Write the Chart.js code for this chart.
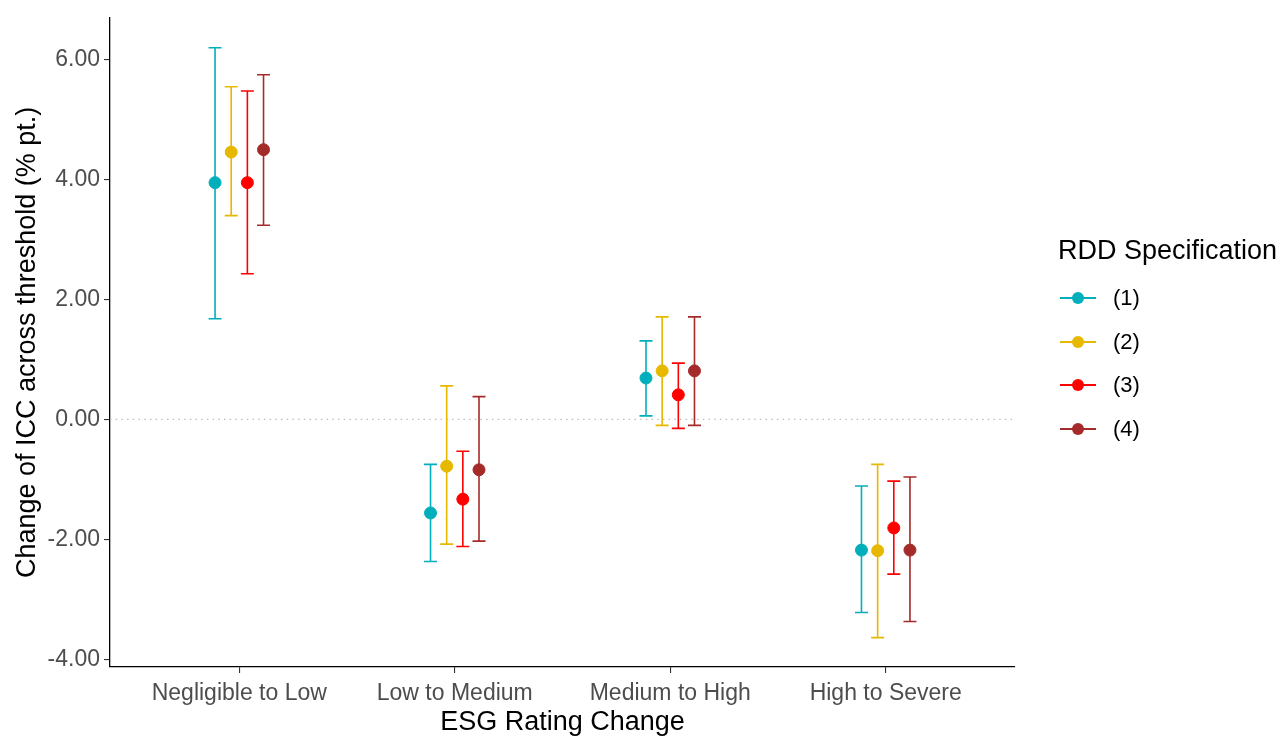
<!DOCTYPE html>
<html>
<head>
<meta charset="utf-8">
<script src="https://cdn.jsdelivr.net/npm/chart.js@4.4.1/dist/chart.umd.min.js"></script>
<style>
  html, body { margin: 0; padding: 0; background: #fff; }
  #wrap { position: relative; width: 1286px; height: 736px; }
  #legend { position: absolute; left: 1058px; top: 230px; font-family: "Liberation Sans", Arial, sans-serif; color: #000; }
  #legend .title { font-size: 27px; line-height: 40px; white-space: nowrap; }
  #legend .item { position: absolute; left: 2px; height: 30px; width: 120px; }
  #legend .key { position: absolute; left: 0; top: 14px; width: 36px; height: 2px; }
  #legend .dot { position: absolute; left: 12px; top: 9px; width: 12px; height: 12px; border-radius: 50%; }
  #legend .lab { position: absolute; left: 53px; top: 0; font-size: 22px; line-height: 30px; }
</style>
</head>
<body>
<div id="wrap">
  <canvas id="myChart" width="1286" height="736"></canvas>
  <div id="legend"></div>
</div>
<script>
// data
var categories = ["Negligible to Low", "Low to Medium", "Medium to High", "High to Severe"];
var specs = ["(1)", "(2)", "(3)", "(4)"];
var colors = ["#00AFBB", "#E7B800", "#FF0000", "#A52A2A"];
var yTicks = [-4, -2, 0, 2, 4, 6];

var est1 = [3.95, -1.56, 0.69, -2.18];
var lo1 = [1.68, -2.37, 0.06, -3.22];
var hi1 = [6.20, -0.75, 1.31, -1.11];

var est2 = [4.46, -0.78, 0.81, -2.19];
var lo2 = [3.40, -2.08, -0.10, -3.64];
var hi2 = [5.55, 0.56, 1.71, -0.75];

var est3 = [3.95, -1.33, 0.41, -1.81];
var lo3 = [2.43, -2.12, -0.15, -2.58];
var hi3 = [5.48, -0.53, 0.94, -1.03];

var est4 = [4.50, -0.84, 0.81, -2.18];
var lo4 = [3.24, -2.03, -0.10, -3.37];
var hi4 = [5.75, 0.38, 1.71, -0.96];

var ests = [est1, est2, est3, est4];
var los = [lo1, lo2, lo3, lo4];
var his = [hi1, hi2, hi3, hi4];

// position_dodge(width = 0.3)
var dodge = 0.3;
var FONT = "'Liberation Sans', Arial, sans-serif";

var datasets = specs.map(function (s, k) {
  var off = (k - 1.5) * dodge / 4;
  return {
    label: s,
    data: ests[k].map(function (v, i) {
      return { x: i + 1 + off, y: v, lo: los[k][i], hi: his[k][i] };
    }),
    backgroundColor: colors[k],
    borderColor: colors[k],
    pointRadius: 6,
    pointBorderWidth: 1,
    pointHoverRadius: 6,
    showLine: false
  };
});

// zero line + error bars, drawn through the scales
var errorBars = {
  id: "errorBars",
  beforeDatasetsDraw: function (chart) {
    var ctx = chart.ctx, ys = chart.scales.y, area = chart.chartArea;
    var y0 = ys.getPixelForValue(0);
    ctx.save();
    ctx.strokeStyle = "#BDBDBD";
    ctx.lineWidth = 1.2;
    ctx.setLineDash([1.5, 4.2]);
    ctx.beginPath();
    ctx.moveTo(area.left, y0);
    ctx.lineTo(area.right, y0);
    ctx.stroke();
    ctx.setLineDash([]);
    chart.data.datasets.forEach(function (ds, k) {
      var meta = chart.getDatasetMeta(k);
      ctx.strokeStyle = ds.borderColor;
      ctx.lineWidth = 1.6;
      meta.data.forEach(function (pt, i) {
        var d = ds.data[i];
        var yl = ys.getPixelForValue(d.lo), yh = ys.getPixelForValue(d.hi);
        ctx.beginPath();
        ctx.moveTo(pt.x, yl); ctx.lineTo(pt.x, yh);
        ctx.moveTo(pt.x - 6.5, yl); ctx.lineTo(pt.x + 6.5, yl);
        ctx.moveTo(pt.x - 6.5, yh); ctx.lineTo(pt.x + 6.5, yh);
        ctx.stroke();
      });
    });
    ctx.restore();
  }
};

var ctx = document.getElementById("myChart");
var myChart = new Chart(ctx, {
  type: "scatter",
  data: { datasets: datasets },
  plugins: [errorBars],
  options: {
    responsive: false,
    animation: false,
    layout: { padding: { top: 15, right: 271, bottom: 0, left: 0 } },
    plugins: { legend: { display: false }, tooltip: { enabled: false } },
    scales: {
      x: {
        type: "linear",
        min: 0.4,
        max: 4.6,
        afterBuildTicks: function (scale) {
          scale.ticks = categories.map(function (c, i) { return { value: i + 1 }; });
        },
        afterFit: function (scale) { scale.height = 69; },
        ticks: {
          callback: function (v) { return categories[Math.round(v) - 1]; },
          color: "#4D4D4D",
          font: { family: FONT, size: 23 },
          padding: 7,
          maxRotation: 0,
          autoSkip: false
        },
        grid: { drawOnChartArea: false, drawTicks: true, tickLength: 6, color: "#333333", lineWidth: 1.1 },
        border: { display: true, color: "#000", width: 1.3 },
        title: {
          display: true,
          text: "ESG Rating Change",
          color: "#000",
          font: { family: FONT, size: 27 },
          padding: { top: 0, bottom: -3 }
        }
      },
      y: {
        min: -4.13,
        max: 6.7,
        afterBuildTicks: function (scale) {
          scale.ticks = yTicks.map(function (v) { return { value: v }; });
        },
        afterFit: function (scale) { scale.width = 110; },
        ticks: {
          callback: function (v) { return v.toFixed(2); },
          color: "#4D4D4D",
          font: { family: FONT, size: 23 },
          padding: 4
        },
        grid: { drawOnChartArea: false, drawTicks: true, tickLength: 6, color: "#333333", lineWidth: 1.1 },
        border: { display: true, color: "#000", width: 1.3 },
        title: {
          display: true,
          text: "Change of ICC across threshold (% pt.)",
          color: "#000",
          font: { family: FONT, size: 27 },
          padding: { top: 11, bottom: 0 }
        }
      }
    }
  }
});

// legend, built from the same arrays
var leg = document.getElementById("legend");
var t = document.createElement("div");
t.className = "title";
t.textContent = "RDD Specification";
leg.appendChild(t);
specs.forEach(function (s, k) {
  var it = document.createElement("div");
  it.className = "item";
  it.style.top = (53 + k * 43.7) + "px";
  it.innerHTML = '<div class="key" style="background:' + colors[k] + '"></div>' +
    '<div class="dot" style="background:' + colors[k] + '"></div>' +
    '<div class="lab">' + s + '</div>';
  leg.appendChild(it);
});
</script>
</body>
</html>
